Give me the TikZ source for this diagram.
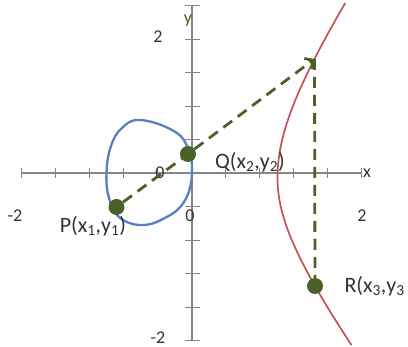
\documentclass[tikz,border=0pt]{standalone}
\usepackage{fontspec}
\setmainfont{Carlito}
\usepackage{tikz}
\usetikzlibrary{arrows.meta}
\definecolor{CurveAxis}{HTML}{868686}
\definecolor{CurveLoop}{HTML}{5A7EC0}
\definecolor{CurveBranch}{HTML}{C65258}
\definecolor{CurvePoint}{HTML}{4A6228}
\definecolor{CurveText}{HTML}{333333}

\begin{document}
\begin{tikzpicture}[x=1pt,y=-1pt,
    axisline/.style={CurveAxis,line width=1.4pt},
    tickmark/.style={CurveAxis,line width=1pt},
    ptdot/.style={circle,fill=CurvePoint,inner sep=0pt,minimum size=16pt},
    chord/.style={CurvePoint,line width=2.8pt,dash pattern=on 11pt off 7pt},
    branch/.style={CurveBranch,line width=1.7pt},
    num/.style={text=CurveText,font=\fontsize{18}{20}\selectfont},
    lbl/.style={text=CurveText,font=\fontsize{22}{24}\selectfont}]
  \useasboundingbox (0,0) rectangle (408,347);
  % axes and ticks
  \draw[axisline] (21.7,173) -- (361.7,173);
  \draw[axisline] (192,6) -- (192,341);
  \foreach \i in {0,...,10} \draw[tickmark] ({21.7+34*\i},168) -- ({21.7+34*\i},178);
  \foreach \i in {0,...,10} \draw[tickmark] (185,{6+33.5*\i}) -- (200,{6+33.5*\i});
  \node[num] (xmin) at (15,216) {-2};
  \node[num] (xzero) at (190,216) {0};
  \node[num] (xmax) at (362,216) {2};
  \node[num] (ymax) at (158,37) {2};
  \node[num] (ymin) at (158,338) {-2};
  \node[num] (origin) at (160,173) {0};
  \node[num] (xname) at (367,173) {x};
  \node[num,text=CurvePoint] (yname) at (188,21) {y};
  % the two pieces of the curve
  \draw[CurveLoop,line width=2.3pt] plot[smooth cycle,tension=0.7] coordinates {
    (140,120) (172,130) (187,146) (192,173) (184,202) (163,219) (140,225)
    (119,217) (109,198) (106.5,173) (111,146) (122,128)};
  \draw[branch] plot[domain=3:178,samples=50,variable=\t]
    ({277.5+66.7*(sqrt(1+((\t-178)/100)^2)-1)},\t);
  \draw[branch] plot[domain=178:345,samples=50,variable=\t]
    ({277.5+66.7*(sqrt(1+((\t-178)/90)^2)-1)},\t);
  % points and chords
  \node[ptdot] (P) at (116.5,207) {};
  \node[ptdot] (Q) at (188,154) {};
  \node[ptdot] (R) at (315,286) {};
  \coordinate (T) at (314.5,59);
  \draw[chord] (P) -- (Q);
  \draw[chord,-{Straight Barb[length=6pt,width=13pt]}] (Q) -- (T);
  \draw[chord] (T) -- (R);
  \node[lbl] (Plbl) at (93,226) {P(x\textsubscript{1},y\textsubscript{1})};
  \node[lbl] (Qlbl) at (250,162) {Q(x\textsubscript{2},y\textsubscript{2})};
  \node[lbl,anchor=west] (Rlbl) at (341,286) {R(x\textsubscript{3},y\textsubscript{3}};
\end{tikzpicture}
\end{document}
